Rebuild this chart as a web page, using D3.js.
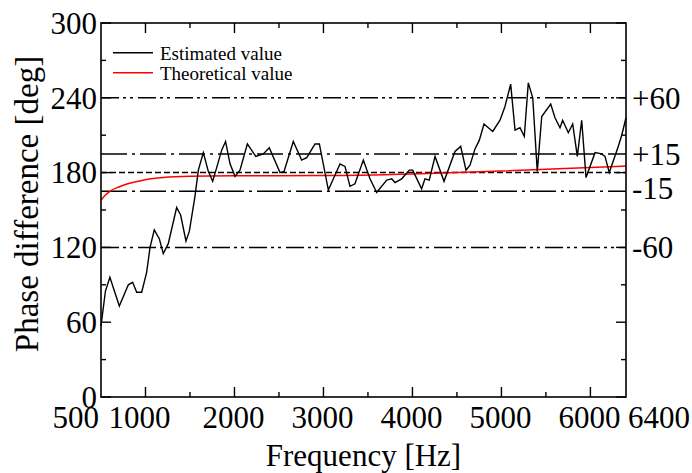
<!DOCTYPE html>
<html><head><meta charset="utf-8">
<script src="https://cdn.jsdelivr.net/npm/d3@7"></script>
<style>body{margin:0;background:#fff}</style>
</head><body><svg id="c" width="692" height="473"></svg>
<script>
// Estimated value vertices [frequency Hz, phase deg]
const estFreq = [500,550,600,706,807,856,901,957,1013,1051,1099,1155,1200,1256,1350,1395,1455,1493,1556,1594,1650,1706,1755,1800,1856,1900,1950,2006,2062,2145,2240,2324,2391,2512,2557,2661,2755,2812,2905,2954,3055,3186,3242,3298,3354,3448,3523,3598,3711,3767,3804,3879,3965,4003,4103,4141,4189,4254,4355,4478,4542,4602,4647,4703,4752,4804,4902,4984,5040,5104,5153,5209,5257,5302,5352,5403,5453,5554,5602,5658,5688,5752,5801,5853,5902,5951,6052,6127,6164,6212,6313,6352,6400];
const estPhase = [57,85,96,73,90,92,84,84,100,120,134,127,115,123,152,146,125,133,161,182,196,181,173,184,198,205,187,177,182,203,193,195,200,180,181,205,190,192,203,203,166,187,185,169,171,190,175,164,174,175,172,175,182,182,167,175,174,193,173,197,201,182,186,199,206,219,213,222,233,251,214,216,209,252,240,181,225,235,224,216,222,212,219,193,222,176,196,195,193,180,201,210,224];
// Theoretical value samples
const thFreq = [500,550,600,700,800,1000,1200,1500,2000,3000,4000,5000,6000,6400];
const thPhase = [158,162,165,168.5,171,174.3,176,177,177.4,177.6,178.9,181.2,184,185.3];
// Reference lines
const refValues = [240,195,180,165,120];
const refLabels = ["+60","+15","","-15","-60"];
const refStyles = ["18,4,3,4,3,5","26,5,3,5","6,3","26,5,3,5","18,4,3,4,3,5"];
const yTicks = [0,60,120,180,240,300];
const yMinor = [30,90,150,210,270];
const xTicks = [500,1000,2000,3000,4000,5000,6000,6400];
const xMajor = [1000,2000,3000,4000,5000,6000];
const xMinor = [1500,2500,3500,4500,5500];
const seriesNames = ["Estimated value","Theoretical value"];
const seriesColors = ["#000000","#ff0000"];

const FONT = "'Liberation Serif', 'Times New Roman', Tinos, Times, serif";
const L=101,R=626,T=23,B=397;
const svg=d3.select("#c").attr("font-family",FONT);
const x=d3.scaleLinear().domain([500,6400]).range([L,R]);
const y=d3.scaleLinear().domain([0,300]).range([B,T]);

// reference lines
refValues.forEach((v,i)=>{
  svg.append("line").attr("x1",L).attr("x2",R).attr("y1",y(v)).attr("y2",y(v))
    .attr("stroke","#000").attr("stroke-width",1.5).attr("stroke-dasharray",refStyles[i]);
  if(refLabels[i]) svg.append("text").attr("x",632).attr("y",y(v)).attr("dy",v===165?"0.25em":"0.35em")
    .attr("font-family",FONT).attr("font-size",31).text(refLabels[i]);
});

svg.append("path").datum(thFreq.map((f,i)=>[f,thPhase[i]]))
  .attr("d",d3.line().x(d=>x(d[0])).y(d=>y(d[1])).curve(d3.curveMonotoneX))
  .attr("fill","none").attr("stroke",seriesColors[1]).attr("stroke-width",1.5);
svg.append("path").datum(estFreq.map((f,i)=>[f,estPhase[i]]))
  .attr("d",d3.line().x(d=>x(d[0])).y(d=>y(d[1])))
  .attr("fill","none").attr("stroke",seriesColors[0]).attr("stroke-width",1.4);

// frame
svg.append("rect").attr("x",L).attr("y",T).attr("width",R-L).attr("height",B-T)
  .attr("fill","none").attr("stroke","#000").attr("stroke-width",1.6);

// ticks (inward)
const tk=svg.append("g").attr("stroke","#000").attr("stroke-width",1.4);
yTicks.forEach(v=>{tk.append("line").attr("x1",L).attr("x2",L+10).attr("y1",y(v)).attr("y2",y(v));
  tk.append("line").attr("x1",R).attr("x2",R-10).attr("y1",y(v)).attr("y2",y(v));});
yMinor.forEach(v=>{tk.append("line").attr("x1",L).attr("x2",L+5).attr("y1",y(v)).attr("y2",y(v));
  tk.append("line").attr("x1",R).attr("x2",R-5).attr("y1",y(v)).attr("y2",y(v));});
xMajor.forEach(v=>{tk.append("line").attr("x1",x(v)).attr("x2",x(v)).attr("y1",B).attr("y2",B-10);
  tk.append("line").attr("x1",x(v)).attr("x2",x(v)).attr("y1",T).attr("y2",T+10);});
xMinor.forEach(v=>{tk.append("line").attr("x1",x(v)).attr("x2",x(v)).attr("y1",B).attr("y2",B-5);
  tk.append("line").attr("x1",x(v)).attr("x2",x(v)).attr("y1",T).attr("y2",T+5);});

// tick labels
yTicks.forEach(v=>svg.append("text").attr("x",97).attr("y",y(v)).attr("dy","0.35em")
  .attr("font-family",FONT).attr("text-anchor","end").attr("font-size",31).text(v));
xTicks.forEach(v=>{
  const t=svg.append("text").attr("x",x(v)).attr("y",B+31).attr("font-family",FONT).attr("font-size",31).text(v);
  if(v===500) t.attr("text-anchor","end").attr("dx",-2);
  else if(v===6400) t.attr("text-anchor","start").attr("dx",2);
  else if(v===1000) t.attr("text-anchor","middle").attr("dx",-6);
  else t.attr("text-anchor","middle").attr("dx",-1);
});

// axis titles
svg.append("text").attr("x",(L+R)/2).attr("y",466).attr("text-anchor","middle")
  .attr("font-family",FONT).attr("font-size",31).text("Frequency [Hz]");
svg.append("text").attr("transform","translate(38,204) rotate(-90)").attr("text-anchor","middle")
  .attr("font-family",FONT).attr("font-size",33).text("Phase difference [deg]");

// legend
seriesNames.forEach((n,i)=>{
  const yy=52.7+i*20;
  svg.append("line").attr("x1",113).attr("x2",153).attr("y1",yy).attr("y2",yy).attr("stroke",seriesColors[i]).attr("stroke-width",1.4);
  svg.append("text").attr("x",160).attr("y",yy+7.5).attr("font-family",FONT).attr("font-size",19).text(n);
});
</script></body></html>
